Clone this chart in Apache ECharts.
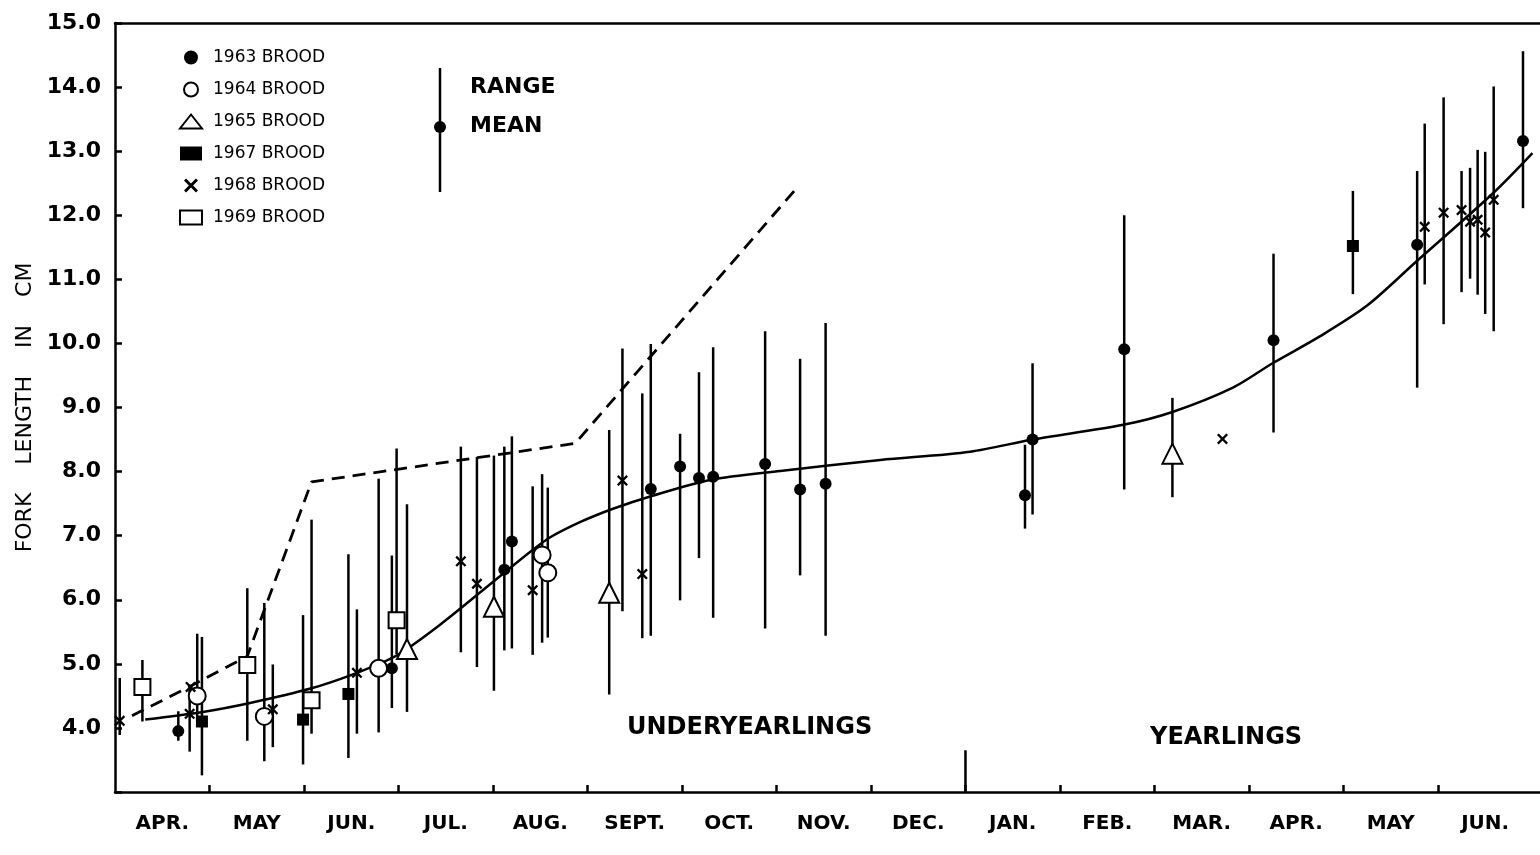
<!DOCTYPE html>
<html>
<head>
<meta charset="utf-8">
<title>Fork length</title>
<script src="https://cdn.jsdelivr.net/npm/echarts@6/dist/echarts.min.js"></script>
<style>
html, body { margin: 0; padding: 0; background: #fff; }
#growth_chart { width: 1540px; height: 855px; }
</style>
</head>
<body>
<div id="growth_chart"></div>
<script>
// month labels, centred between month ticks (x = months since 1 April)
const monthLabels = ['APR.', 'MAY', 'JUN.', 'JUL.', 'AUG.', 'SEPT.', 'OCT.', 'NOV.', 'DEC.', 'JAN.', 'FEB.', 'MAR.', 'APR.', 'MAY', 'JUN.']
const monthTicks = [1, 2, 3, 4, 5, 6, 7, 8, 9, 10, 11, 12, 13, 14]
const monthLabelPos = [0.5, 1.5, 2.5, 3.5, 4.5, 5.5, 6.5, 7.5, 8.5, 9.5, 10.5, 11.5, 12.5, 13.5, 14.5]

// [month, mean, low, high]  (fork length, cm)
const brood1963 = [
    [0.67, 3.95, 3.80, 4.26],
    [2.93, 4.93, 4.31, 6.69],
    [4.12, 6.47, 5.21, 8.39],
    [4.20, 6.91, 5.24, 8.55],
    [5.67, 7.73, 5.44, 9.99],
    [5.98, 8.08, 5.99, 8.59],
    [6.18, 7.90, 6.65, 9.55],
    [6.33, 7.92, 5.72, 9.94],
    [6.88, 8.12, 5.55, 10.19],
    [7.25, 7.72, 6.38, 9.76],
    [7.52, 7.81, 5.44, 10.32],
    [9.63, 7.63, 7.11, 8.42],
    [9.71, 8.50, 7.33, 9.69],
    [10.68, 9.91, 7.72, 12.00],
    [12.26, 10.05, 8.61, 11.40],
    [13.78, 11.54, 9.31, 12.69],
    [14.90, 13.16, 12.11, 14.56]
]
const brood1964 = [
    [0.87, 4.50, 4.11, 5.47],
    [1.58, 4.18, 3.48, 5.95],
    [2.79, 4.93, 3.93, 7.89],
    [4.52, 6.70, 5.33, 7.96],
    [4.58, 6.42, 5.41, 7.75]
]
const brood1965 = [
    [3.09, 5.23, 4.25, 7.49],
    [4.01, 5.89, 4.58, 8.25],
    [5.23, 6.11, 4.52, 8.65],
    [11.19, 8.28, 7.60, 9.15]
]
const brood1967 = [
    [0.92, 4.10, 3.26, 5.42],
    [1.99, 4.13, 3.43, 5.76],
    [2.47, 4.53, 3.53, 6.71],
    [13.10, 11.52, 10.77, 12.38]
]
const brood1968 = [
    [0.05, 4.11, 3.89, 4.78],
    [0.79, 4.22, 3.63, 4.66],
    [0.80, 4.64, null, null],
    [1.67, 4.29, 3.70, 4.99],
    [2.56, 4.86, 3.91, 5.85],
    [3.66, 6.60, 5.18, 8.39],
    [3.83, 6.25, 4.95, 8.23],
    [4.42, 6.15, 5.14, 7.77],
    [5.37, 7.86, 5.82, 9.92],
    [5.58, 6.40, 5.40, 9.22],
    [11.72, 8.51, null, null],
    [13.86, 11.82, 10.92, 13.43],
    [14.06, 12.04, 10.30, 13.84],
    [14.25, 12.08, 10.80, 12.69],
    [14.34, 11.90, 11.01, 12.74],
    [14.42, 11.93, 10.76, 13.02],
    [14.50, 11.73, 10.46, 12.99],
    [14.59, 12.24, 10.19, 14.01]
]
const brood1969 = [
    [0.29, 4.64, 4.10, 5.06],
    [1.40, 4.98, 3.80, 6.18],
    [2.08, 4.43, 3.91, 7.25],
    [2.98, 5.68, 5.15, 8.36]
]

// fitted growth curve (solid)
const curveMonth = [0.32, 0.93, 1.43, 2.06, 2.56, 2.98, 3.44, 4.11, 4.57, 4.92, 5.27, 5.68, 6.30, 7.04, 8.10, 9.05, 9.71, 10.67, 11.19, 11.83, 12.25, 12.75, 13.25, 13.78, 14.58, 15.00]
const curveLength = [4.13, 4.25, 4.39, 4.61, 4.86, 5.13, 5.61, 6.41, 6.94, 7.21, 7.42, 7.62, 7.87, 8.01, 8.18, 8.31, 8.50, 8.73, 8.93, 9.31, 9.69, 10.11, 10.59, 11.29, 12.34, 12.97]

// dashed comparison line
const dashMonth = [0.18, 0.81, 1.40, 2.08, 4.87, 7.20]
const dashLength = [4.19, 4.66, 5.12, 7.84, 8.44, 12.40]

// underyearling / yearling divider at the Dec-Jan boundary
const dividerMonth = [9, 9]
const dividerLength = [3, 3.65]

const FONT = "'DejaVu Sans', sans-serif"
const X_PATH = 'path://M0,1.5L1.5,0L5,3.5L8.5,0L10,1.5L6.5,5L10,8.5L8.5,10L5,6.5L1.5,10L0,8.5L3.5,5Z'

const broods = [
    { name: '1963 BROOD', rows: brood1963, symbol: 'circle', size: 12, fill: '#000' },
    { name: '1964 BROOD', rows: brood1964, symbol: 'circle', size: 17, fill: '#fff' },
    { name: '1965 BROOD', rows: brood1965, symbol: 'triangle', size: 20, fill: '#fff' },
    { name: '1967 BROOD', rows: brood1967, symbol: 'rect', size: 12, fill: '#000' },
    { name: '1968 BROOD', rows: brood1968, symbol: X_PATH, size: 11, fill: '#000' },
    { name: '1969 BROOD', rows: brood1969, symbol: 'rect', size: 16, fill: '#fff' }
]

const chartDom = document.getElementById('growth_chart')
const chartInstance = echarts.init(chartDom, null, { renderer: 'canvas' })

// range bars for every brood
const rangeRows = broods.flatMap(b => b.rows.filter(r => r[2] != null).map(r => [r[0], r[2], r[3]]))

const markerSeries = broods.map(b => ({
    name: b.name,
    type: 'scatter',
    symbol: b.symbol,
    symbolSize: b.size,
    z: 5,
    itemStyle: {
        color: b.fill,
        borderColor: '#000',
        borderWidth: b.fill === '#fff' ? 2 : 0,
        opacity: 1
    },
    emphasis: { disabled: true },
    data: b.rows.map(r => [r[0], r[1]])
}))

const option = {
    backgroundColor: '#fff',
    animation: false,
    grid: { left: 115, right: 0, top: 23, bottom: 63 },
    legend: {
        orient: 'vertical',
        left: 174,
        top: 44,
        itemWidth: 22,
        itemHeight: 14,
        itemGap: 15,
        selectedMode: false,
        textStyle: { fontFamily: FONT, fontSize: 17, color: '#000', padding: [0, 0, 0, 6] },
        data: broods.map(b => b.name)
    },
    xAxis: [
        {
            type: 'value',
            min: 0,
            max: 15.08,
            splitLine: { show: false },
            axisLine: { lineStyle: { color: '#000', width: 2.5 } },
            axisTick: { inside: true, length: 7, customValues: monthTicks, lineStyle: { color: '#000', width: 2.5 } },
            axisLabel: {
                customValues: monthLabelPos,
                formatter: v => monthLabels[Math.floor(v)],
                fontFamily: FONT,
                fontSize: 20,
                fontWeight: 'bold',
                color: '#000',
                margin: 22
            }
        },
        {
            type: 'value',
            position: 'top',
            min: 0,
            max: 15.08,
            splitLine: { show: false },
            axisLine: { show: true, lineStyle: { color: '#000', width: 2.5 } },
            axisTick: { show: false },
            axisLabel: { show: false }
        }
    ],
    yAxis: {
        type: 'value',
        min: 3,
        max: 15,
        interval: 1,
        name: 'FORK    LENGTH    IN    CM',
        nameLocation: 'middle',
        nameGap: 78,
        nameTextStyle: { fontFamily: FONT, fontSize: 22, color: '#000' },
        splitLine: { show: false },
        axisLine: { show: true, lineStyle: { color: '#000', width: 2.5 } },
        axisTick: { inside: true, length: 7, lineStyle: { color: '#000', width: 2.5 } },
        axisLabel: {
            formatter: v => (v === 3 ? '' : v.toFixed(1)),
            fontFamily: FONT,
            fontSize: 22,
            fontWeight: 'bold',
            color: '#000',
            margin: 14
        }
    },
    graphic: [
        // RANGE / MEAN key
        { type: 'line', shape: { x1: 440, y1: 68, x2: 440, y2: 192 }, style: { stroke: '#000', lineWidth: 2.5 } },
        { type: 'circle', shape: { cx: 440, cy: 127, r: 6 }, style: { fill: '#000' } },
        { type: 'text', left: 470, top: 76, style: { text: 'RANGE', font: 'bold 22px ' + FONT, fill: '#000' } },
        { type: 'text', left: 470, top: 115, style: { text: 'MEAN', font: 'bold 22px ' + FONT, fill: '#000' } },
        // age class labels
        { type: 'text', left: 627, top: 716, style: { text: 'UNDERYEARLINGS', font: 'bold 24px ' + FONT, fill: '#000' } },
        { type: 'text', left: 1150, top: 726, style: { text: 'YEARLINGS', font: 'bold 24px ' + FONT, fill: '#000' } }
    ],
    series: [
        {
            type: 'custom',
            name: 'range',
            z: 1,
            silent: true,
            renderItem: (params, api) => {
                const p1 = api.coord([api.value(0), api.value(1)])
                const p2 = api.coord([api.value(0), api.value(2)])
                return {
                    type: 'line',
                    shape: { x1: p1[0], y1: p1[1], x2: p2[0], y2: p2[1] },
                    style: { stroke: '#000', lineWidth: 2.5 }
                }
            },
            encode: { x: 0, y: [1, 2] },
            data: rangeRows
        },
        {
            type: 'line',
            name: 'curve',
            z: 2,
            smooth: 0.3,
            symbol: 'none',
            silent: true,
            lineStyle: { color: '#000', width: 2.5 },
            data: curveMonth.map((m, i) => [m, curveLength[i]])
        },
        {
            type: 'line',
            name: 'dashed',
            z: 2,
            symbol: 'none',
            silent: true,
            lineStyle: { color: '#000', width: 2.8, type: [13, 8] },
            data: dashMonth.map((m, i) => [m, dashLength[i]])
        },
        {
            type: 'line',
            name: 'divider',
            z: 2,
            symbol: 'none',
            silent: true,
            lineStyle: { color: '#000', width: 2.5 },
            data: dividerMonth.map((m, i) => [m, dividerLength[i]])
        },
        ...markerSeries
    ]
}

chartInstance.setOption(option)
window.addEventListener('resize', () => chartInstance.resize())
</script>
</body>
</html>
